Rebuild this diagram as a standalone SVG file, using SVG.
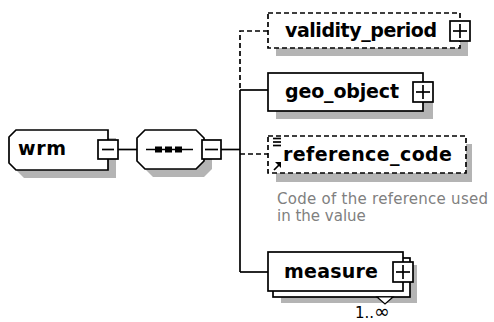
<svg xmlns="http://www.w3.org/2000/svg" width="494" height="322" viewBox="0 0 494 322">
<style>
.bg{fill:#ffffff}
.box{fill:#ffffff;stroke:#000;stroke-width:1.7}
.dbox{fill:#ffffff;stroke:#000;stroke-width:1.7;stroke-dasharray:5 3}
.shadow{fill:#b4b4b4;stroke:none}
.ln{fill:none;stroke:#000;stroke-width:1.7}
.dln{fill:none;stroke:#000;stroke-width:1.7;stroke-dasharray:5 3}
.name{font-family:"DejaVu Sans",sans-serif;font-weight:bold;font-size:19px;fill:#000}
.doc{font-family:"DejaVu Sans",sans-serif;font-size:15px;fill:#808080}
.card{font-family:"DejaVu Sans",sans-serif;font-size:15px;fill:#000}
</style>
<rect class="bg" x="0" y="0" width="494" height="322"/>
<g id="connectors">
<line class="ln" x1="118" y1="149.5" x2="137" y2="149.5"/>
<line class="ln" x1="221" y1="149.5" x2="240" y2="149.5"/>
<polyline class="dln" points="268,31 240,31 240,90"/>
<line class="ln" x1="240" y1="90" x2="240" y2="272"/>
<line class="ln" x1="240" y1="90" x2="268" y2="90"/>
<line class="dln" x1="240" y1="154" x2="268" y2="154"/>
<line class="ln" x1="240" y1="272" x2="268" y2="272"/>
</g>
<g id="wrm">
<polygon class="shadow" points="24,138 116,138 116,178 24,178 17,171 17,145"/>
<polygon class="box" points="16,130 108,130 108,170 16,170 9,163 9,137"/>
<text class="name" x="18" y="155" textLength="48">wrm</text>
<rect class="box" x="98" y="140" width="20" height="19"/>
<line class="ln" x1="102" y1="149.5" x2="114" y2="149.5"/>
</g>
<g id="sequence">
<polygon class="shadow" points="153,138 204,138 212,146 212,169 204,177 153,177 145,169 145,146"/>
<polygon class="box" points="145,130 196,130 204,138 204,161 196,169 145,169 137,161 137,138"/>
<line class="ln" x1="146" y1="149.5" x2="193" y2="149.5"/>
<rect x="155" y="146.5" width="7" height="6" fill="#000"/>
<rect x="165" y="146.5" width="7" height="6" fill="#000"/>
<rect x="175" y="146.5" width="7" height="6" fill="#000"/>
<rect class="box" x="202" y="140" width="19" height="19"/>
<line class="ln" x1="205" y1="149.5" x2="218" y2="149.5"/>
</g>
<g id="validity_period">
<rect class="shadow" x="276" y="21" width="192" height="35"/>
<rect class="dbox" x="268" y="13" width="192" height="35"/>
<text class="name" x="285" y="37" textLength="152">validity_period</text>
<rect class="box" x="450" y="21" width="20" height="20"/>
<line class="ln" x1="453" y1="31" x2="467" y2="31"/>
<line class="ln" x1="460" y1="24" x2="460" y2="38"/>
</g>
<g id="geo_object">
<rect class="shadow" x="276" y="81" width="157" height="38"/>
<rect class="box" x="268" y="73" width="155" height="38"/>
<text class="name" x="285" y="98" textLength="114">geo_object</text>
<rect class="box" x="413" y="82" width="20" height="20"/>
<line class="ln" x1="416" y1="92" x2="430" y2="92"/>
<line class="ln" x1="423" y1="85" x2="423" y2="99"/>
</g>
<g id="reference_code">
<rect class="shadow" x="276" y="144" width="196" height="38"/>
<rect class="dbox" x="268" y="136" width="198" height="37"/>
<line class="ln" x1="273" y1="138.5" x2="281" y2="138.5" stroke-width="1.2"/>
<line class="ln" x1="273" y1="142" x2="281" y2="142" stroke-width="1.2"/>
<line class="ln" x1="273" y1="145.5" x2="281" y2="145.5" stroke-width="1.2"/>
<line class="ln" x1="274" y1="170" x2="280" y2="164" stroke-width="1.8"/>
<polygon points="281,162 281,168 275,162" fill="#000"/>
<text class="name" x="283" y="161" textLength="169">reference_code</text>
<text class="doc" x="277" y="204" textLength="211">Code of the reference used</text>
<text class="doc" x="277" y="221">in the value</text>
</g>
<g id="measure">
<rect class="shadow" x="281" y="265" width="136" height="38"/>
<rect class="box" x="273" y="258" width="137" height="39"/>
<polygon points="377,297 393,297 385,304" fill="#ffffff" stroke="#000" stroke-width="1.2"/>
<rect class="box" x="268" y="252" width="135" height="39"/>
<text class="name" x="284" y="278" textLength="94">measure</text>
<rect class="box" x="393" y="262" width="20" height="20"/>
<line class="ln" x1="396" y1="272" x2="410" y2="272"/>
<line class="ln" x1="403" y1="265" x2="403" y2="279"/>
<text class="card" x="355" y="318">1..<tspan font-size="19">∞</tspan></text>
</g>
</svg>
